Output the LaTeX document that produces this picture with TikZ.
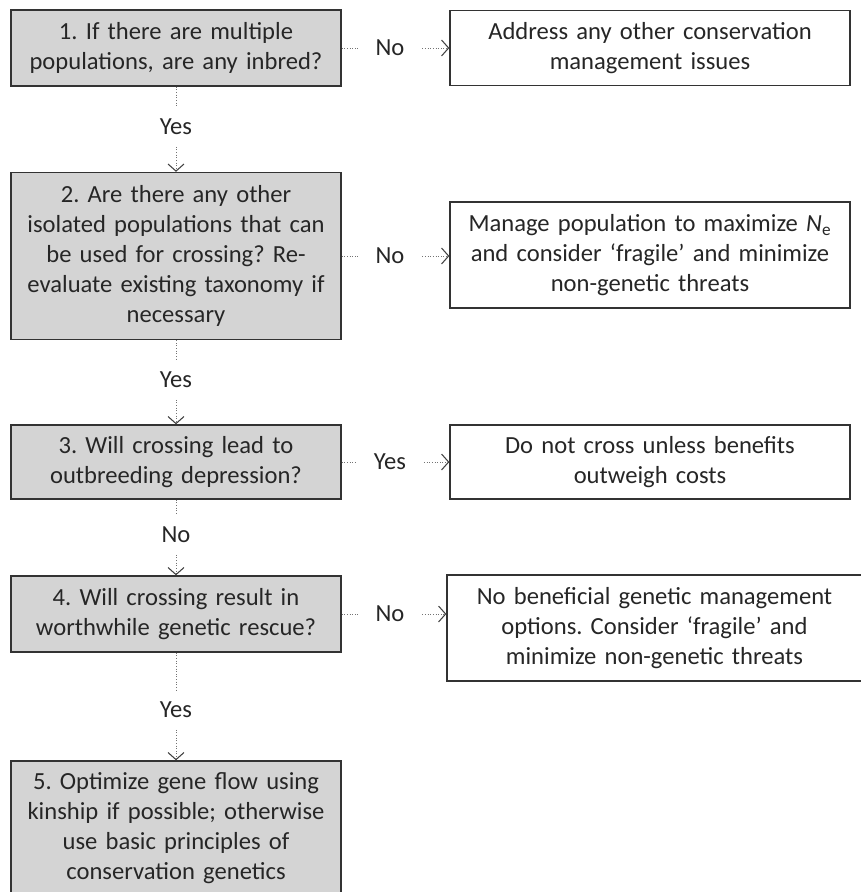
\documentclass[tikz,border=0pt]{standalone}
\usepackage{fontspec}
\setmainfont{Carlito}
\usetikzlibrary{arrows.meta}
\frenchspacing
\begin{document}
\begin{tikzpicture}[
    x=0.02cm,y=-0.02cm,
    every node/.style={font=\fontsize{14}{17}\selectfont,text=black!85},
    question/.style={draw=black!80,line width=0.8pt,fill=black!17,align=center,
                     text width=6.6cm,inner xsep=0pt},
    action/.style={draw=black!80,line width=0.8pt,fill=white,align=center,
                   text width=8cm,inner xsep=0pt},
    answer/.style={inner xsep=10pt,inner ysep=6.5pt},
    link/.style={draw=black!55,line width=0.5pt,densely dotted},
    flow/.style={link,-{Straight Barb[length=4pt,width=9pt,line width=0.6pt,color=black!75]}}
  ]
    \useasboundingbox (0,0) rectangle (861,892);

    \node[question,minimum height=1.52cm] (q1) at (176,48)
      {1. If there are multiple\\populations, are any inbred?};
    \node[question,minimum height=3.34cm] (q2) at (176,256)
      {2. Are there any other\\isolated populations that can\\be used for crossing? Re-\\evaluate existing taxonomy if\\necessary};
    \node[question,minimum height=1.48cm] (q3) at (176,462)
      {3. Will crossing lead to\\outbreeding depression?};
    \node[question,minimum height=1.52cm] (q4) at (176,614)
      {4. Will crossing result in\\worthwhile genetic rescue?};
    \node[question,minimum height=2.68cm] (q5) at (176,828)
      {5. Optimize gene flow using\\kinship if possible; otherwise\\use basic principles of\\conservation genetics};

    \node[action,minimum height=1.5cm] (r1) at (650,48)
      {Address any other conservation\\management issues};
    \node[action,minimum height=2.12cm] (r2) at (650,255)
      {Manage population to maximize \textit{N}\textsubscript{e}\\and consider ‘fragile’ and minimize\\non-genetic threats};
    \node[action,minimum height=1.48cm] (r3) at (650,462)
      {Do not cross unless benefits\\outweigh costs};
    \node[action,text width=8.3cm,minimum height=2.12cm] (r4) at (654.5,628)
      {No beneficial genetic management\\options. Consider ‘fragile’ and\\minimize non-genetic threats};

    % answers on the way down
    \node[answer] (yes1) at (176,127) {Yes};
    \node[answer] (yes2) at (176,380) {Yes};
    \node[answer] (no3) at (176,535) {No};
    \node[answer] (yes4) at (176,710) {Yes};

    % answers to the side
    \node[answer] (no1) at (390,48) {No};
    \node[answer] (no2) at (390,256) {No};
    \node[answer] (yes3) at (390,462) {Yes};
    \node[answer] (no4) at (390,614) {No};

    \draw[link] (q1) -- (yes1);
    \draw[flow] (yes1) -- (q2);
    \draw[link] (q2) -- (yes2);
    \draw[flow] (yes2) -- (q3);
    \draw[link] (q3) -- (no3);
    \draw[flow] (no3) -- (q4);
    \draw[link] (q4) -- (yes4);
    \draw[flow] (yes4) -- (q5);

    \draw[link] (q1) -- (no1);
    \draw[flow] (no1) -- (r1);
    \draw[link] (q2) -- (no2);
    \draw[flow] (no2) -- (no2 -| r2.west);
    \draw[link] (q3) -- (yes3);
    \draw[flow] (yes3) -- (r3);
    \draw[link] (q4) -- (no4);
    \draw[flow] (no4) -- (no4 -| r4.west);
  \end{tikzpicture}
\end{document}
